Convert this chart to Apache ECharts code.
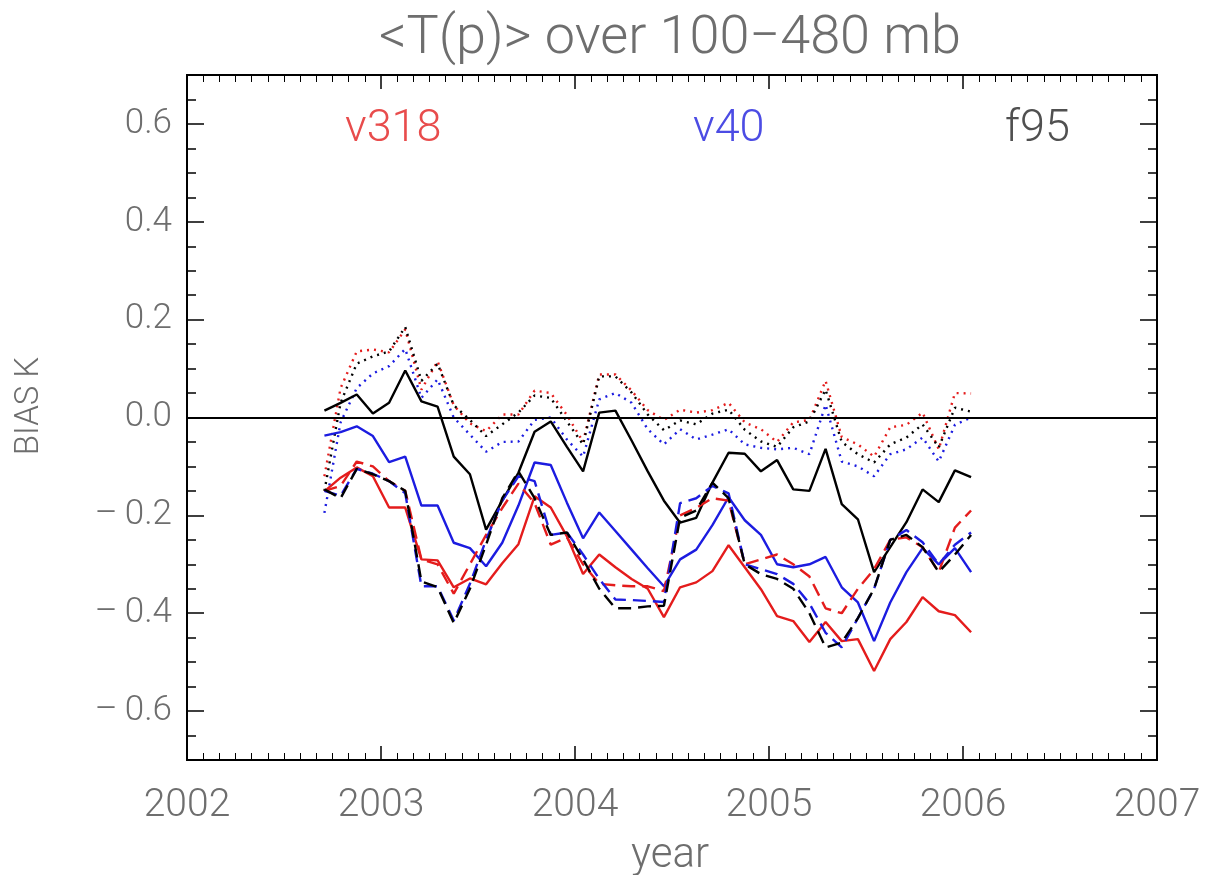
<!DOCTYPE html>
<html>
<head>
<meta charset="utf-8">
<script src="https://cdn.jsdelivr.net/npm/echarts@6/dist/echarts.min.js"></script>
<style>html,body{margin:0;padding:0;background:#fff}#c{width:1205px;height:875px}</style>
</head>
<body>
<div id="c"></div>
<script>
// Monthly samples (mid-month)
const months = ['2002-09','2002-10','2002-11','2002-12',
  '2003-01','2003-02','2003-03','2003-04','2003-05','2003-06','2003-07','2003-08','2003-09','2003-10','2003-11','2003-12',
  '2004-01','2004-02','2004-03','2004-04','2004-05','2004-06','2004-07','2004-08','2004-09','2004-10','2004-11','2004-12',
  '2005-01','2005-02','2005-03','2005-04','2005-05','2005-06','2005-07','2005-08','2005-09','2005-10','2005-11','2005-12',
  '2006-01'];

// solid
const v318Solid = [-0.151,-0.123,-0.102,-0.12,-0.184,-0.184,-0.29,-0.292,-0.347,-0.329,
  -0.341,-0.298,-0.259,-0.161,-0.184,-0.243,-0.32,-0.28,-0.306,-0.33,
  -0.35,-0.408,-0.347,-0.337,-0.314,-0.261,-0.306,-0.351,-0.406,-0.416,
  -0.459,-0.418,-0.457,-0.453,-0.518,-0.453,-0.418,-0.367,-0.396,-0.404,-0.439];
const v40Solid = [-0.037,-0.03,-0.018,-0.038,-0.091,-0.08,-0.18,-0.18,-0.256,-0.267,
  -0.304,-0.256,-0.18,-0.092,-0.097,-0.174,-0.247,-0.194,-0.232,-0.27,
  -0.308,-0.345,-0.29,-0.27,-0.22,-0.163,-0.21,-0.24,-0.30,-0.306,
  -0.30,-0.285,-0.347,-0.378,-0.457,-0.378,-0.316,-0.267,-0.30,-0.267,-0.316];
const f95Solid = [0.014,0.03,0.047,0.008,0.03,0.096,0.033,0.022,-0.08,-0.116,
  -0.229,-0.17,-0.113,-0.029,-0.008,-0.06,-0.11,0.01,0.014,-0.047,
  -0.11,-0.17,-0.215,-0.205,-0.133,-0.072,-0.074,-0.11,-0.087,-0.147,
  -0.15,-0.064,-0.177,-0.208,-0.316,-0.265,-0.214,-0.147,-0.173,-0.108,-0.122];
// dashed
const v318Dash = [-0.15,-0.14,-0.09,-0.1,-0.13,-0.15,-0.29,-0.30,-0.36,-0.30,
  -0.24,-0.185,-0.135,-0.175,-0.26,-0.245,-0.30,-0.34,-0.343,-0.345,
  -0.345,-0.355,-0.2,-0.185,-0.165,-0.17,-0.30,-0.29,-0.28,-0.30,
  -0.325,-0.39,-0.40,-0.35,-0.31,-0.25,-0.245,-0.265,-0.316,-0.225,-0.19];
const v40Dash = [-0.15,-0.16,-0.105,-0.115,-0.13,-0.155,-0.345,-0.345,-0.415,-0.34,
  -0.25,-0.17,-0.12,-0.13,-0.24,-0.235,-0.28,-0.33,-0.372,-0.373,
  -0.375,-0.377,-0.175,-0.165,-0.14,-0.155,-0.30,-0.31,-0.32,-0.34,
  -0.38,-0.44,-0.47,-0.41,-0.35,-0.25,-0.23,-0.255,-0.30,-0.26,-0.235];
const f95Dash = [-0.147,-0.165,-0.105,-0.116,-0.13,-0.15,-0.335,-0.347,-0.42,-0.35,
  -0.26,-0.165,-0.11,-0.165,-0.24,-0.235,-0.29,-0.35,-0.39,-0.39,
  -0.386,-0.385,-0.205,-0.19,-0.133,-0.165,-0.30,-0.32,-0.33,-0.35,
  -0.40,-0.47,-0.46,-0.41,-0.35,-0.25,-0.24,-0.265,-0.316,-0.28,-0.24];
// dotted
const v318Dot = [-0.12,0.06,0.135,0.139,0.133,0.18,0.057,0.115,0.025,-0.012,
  -0.028,0.006,0.006,0.055,0.05,0.005,-0.05,0.088,0.088,0.055,
  0.015,-0.005,0.016,0.01,0.015,0.03,-0.01,-0.024,-0.05,-0.01,
  -0.005,0.075,-0.04,-0.055,-0.08,-0.02,-0.015,0.01,-0.065,0.05,0.049];
const v40Dot = [-0.195,-0.01,0.06,0.09,0.105,0.14,0.04,0.078,0.0,-0.035,
  -0.07,-0.05,-0.049,-0.005,0.0,-0.045,-0.08,0.037,0.05,0.03,
  -0.024,-0.055,-0.024,-0.045,-0.035,-0.024,-0.055,-0.062,-0.065,-0.062,
  -0.075,0.026,-0.09,-0.1,-0.12,-0.075,-0.065,-0.041,-0.09,-0.015,0.0];
const f95Dot = [-0.15,0.03,0.11,0.125,0.135,0.185,0.075,0.11,0.025,-0.005,
  -0.038,-0.014,0.01,0.045,0.04,-0.008,-0.055,0.084,0.084,0.051,
  0.006,-0.026,-0.006,-0.014,0.008,0.016,-0.025,-0.049,-0.06,-0.02,
  -0.008,0.057,-0.05,-0.075,-0.092,-0.055,-0.041,-0.014,-0.061,0.02,0.012];

const xTickLabels = [2002, 2003, 2004, 2005, 2006, 2007];
const yTickLabels = [-0.6, -0.4, -0.2, 0.0, 0.2, 0.4, 0.6];
const versions = ['v318', 'v40', 'f95'];

const RED = '#e41c1c', BLUE = '#1c1ce0', BLACK = '#000000';
const GRAY = '#6e6e6e';
const FONT = 'Roboto';

function toYear(m) {
  const [y, mo] = m.split('-').map(Number);
  return y + (mo - 0.5) / 12;
}
const xs = months.map(toYear);
function pts(vals) { return vals.map((v, i) => [xs[i], v]); }

const yMinor = [];
for (let k = -14; k <= 14; k++) yMinor.push(+(k * 0.05).toFixed(2));

function fmtY(v) {
  const a = Math.abs(v).toFixed(1);
  return (v < -1e-9 ? '\u2013\u2009' : '') + a;
}

function mkX(pos, showLabel) {
  return {
    type: 'value', min: 2002, max: 2007, interval: 1, position: pos,
    axisLine: { show: true, onZero: false, lineStyle: { color: '#000', width: 2 } },
    axisTick: { show: true, inside: true, length: 14, lineStyle: { color: '#000', width: 1.5 } },
    minorTick: { show: true, splitNumber: 12, length: 7, lineStyle: { color: '#000', width: 1 } },
    splitLine: { show: false }, minorSplitLine: { show: false },
    axisLabel: { show: showLabel, margin: 27, fontSize: 39, color: GRAY, fontFamily: FONT, fontWeight: 300,
      showMinLabel: true, showMaxLabel: true, formatter: v => String(Math.round(v)) }
  };
}
function mkY(pos, major, showLabel) {
  return {
    type: 'value', min: -0.7, max: 0.7, position: pos,
    axisLine: { show: true, onZero: false, lineStyle: { color: '#000', width: 2 } },
    axisTick: { show: true, inside: true, length: major ? 17 : 9, customValues: major ? yTickLabels : yMinor,
      lineStyle: { color: '#000', width: 1.5 } },
    splitLine: { show: false },
    axisLabel: { show: showLabel, customValues: yTickLabels, margin: 15, fontSize: 35, color: GRAY,
      fontFamily: FONT, fontWeight: 300, formatter: fmtY }
  };
}

function line(name, vals, color, dash, z) {
  return {
    name, type: 'line', xAxisIndex: 0, yAxisIndex: 1, data: pts(vals),
    showSymbol: false, symbol: 'none', animation: false, z: z,
    lineStyle: { color, width: 2.4, type: dash, cap: 'butt' }
  };
}

const chart = echarts.init(document.getElementById('c'), null, { renderer: 'canvas' });
chart.setOption({
  backgroundColor: '#fff',
  animation: false,
  grid: { left: 187, right: 48, top: 75, bottom: 115 },
  xAxis: [mkX('bottom', true), mkX('top', false)],
  yAxis: [mkY('left', false, false), mkY('left', true, true), mkY('right', false, false), mkY('right', true, false)],
  series: [
    line('v318 dotted', v318Dot, RED, [2, 5], 2),
    line('v40 dotted', v40Dot, BLUE, [2, 5], 2),
    line('f95 dotted', f95Dot, BLACK, [2, 5], 2),
    line('f95 solid', f95Solid, BLACK, 'solid', 3),
    line('v40 solid', v40Solid, BLUE, 'solid', 3),
    line('v318 solid', v318Solid, RED, 'solid', 3),
    line('v318 dashed', v318Dash, RED, [13, 7], 4),
    line('v40 dashed', v40Dash, BLUE, [13, 7], 4),
    Object.assign(line('f95 dashed', f95Dash, BLACK, [13, 7], 4), {
      markLine: { silent: true, symbol: 'none', animation: false, label: { show: false },
        lineStyle: { color: '#000', type: 'solid', width: 2 }, data: [{ yAxis: 0 }] }
    })
  ],
  graphic: [
    { type: 'text', x: 670, y: 39, style: { text: '<T(p)> over 100\u2212480 mb', fontSize: 54,
      fontFamily: FONT, fontWeight: 300, fill: GRAY, align: 'center', verticalAlign: 'middle' } },
    { type: 'text', x: 345, y: 130, style: { text: versions[0], fontSize: 45, fontFamily: FONT, fontWeight: 300, fill: '#e84c4c', verticalAlign: 'middle' } },
    { type: 'text', x: 693, y: 130, style: { text: versions[1], fontSize: 45, fontFamily: FONT, fontWeight: 300, fill: '#4c4ce4', verticalAlign: 'middle' } },
    { type: 'text', x: 1005, y: 130, style: { text: versions[2], fontSize: 45, fontFamily: FONT, fontWeight: 300, fill: '#505050', verticalAlign: 'middle' } },
    { type: 'text', x: 30, y: 406, rotation: Math.PI / 2,
      style: { text: 'BIAS K', fontSize: 33, fontFamily: FONT, fontWeight: 300, fill: GRAY, align: 'center', verticalAlign: 'middle' } },
    { type: 'text', x: 670, y: 856,
      style: { text: 'year', fontSize: 42, fontFamily: FONT, fontWeight: 300, fill: GRAY, align: 'center', verticalAlign: 'middle' } }
  ]
});
</script>
</body>
</html>
